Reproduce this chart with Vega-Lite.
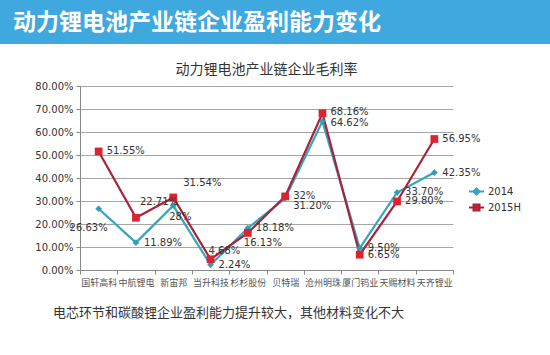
{
  "$schema": "https://vega.github.io/schema/vega-lite/v6.json",
  "padding": 0,
  "autosize": {"type": "pad"},
  "background": "white",
  "spacing": 19,
  "config": {"view": {"stroke": null}, "font": "Noto Sans CJK SC"},
  "title": {"text": "电芯环节和碳酸锂企业盈利能力提升较大，其他材料变化不大", "orient": "bottom", "anchor": "start", "frame": "group", "dx": 53, "offset": 20, "fontSize": 13, "fontWeight": "normal", "color": "#333", "font": "Noto Sans CJK SC"},
  "vconcat": [
    {
      "width": 550,
      "height": 44,
      "view": {"fill": "#3FA9DF", "stroke": null},
      "title": {"text": "动力锂电池产业链企业盈利能力变化", "anchor": "start", "frame": "group", "offset": -35, "dx": 13, "fontSize": 23, "fontWeight": "bold", "color": "white", "font": "Noto Sans CJK SC"},
      "data": {"values": []},
      "mark": "point"
    },
    {
      "spacing": 0,
      "hconcat": [
        {
          "width": 1,
          "height": 184,
          "data": {"values": []},
          "mark": "point"
        },
        {
          "width": 373,
          "height": 184,
          "title": {"text": "动力锂电池产业链企业毛利率", "fontSize": 14, "fontWeight": "normal", "color": "#333", "offset": 4, "anchor": "middle", "font": "Noto Sans CJK SC"},
          "data": {"values": [
            {"company": "国轩高科", "series": "2014", "value": 0.2663, "label": "26.63%"},
            {"company": "中航锂电", "series": "2014", "value": 0.1189, "label": "11.89%"},
            {"company": "新宙邦", "series": "2014", "value": 0.28, "label": "28%"},
            {"company": "当升科技", "series": "2014", "value": 0.0224, "label": "2.24%"},
            {"company": "杉杉股份", "series": "2014", "value": 0.1818, "label": "18.18%"},
            {"company": "贝特瑞", "series": "2014", "value": 0.312, "label": "31.20%"},
            {"company": "沧州明珠", "series": "2014", "value": 0.6462, "label": "64.62%"},
            {"company": "厦门钨业", "series": "2014", "value": 0.095, "label": "9.50%"},
            {"company": "天赐材料", "series": "2014", "value": 0.337, "label": "33.70%"},
            {"company": "天齐锂业", "series": "2014", "value": 0.4235, "label": "42.35%"},
            {"company": "国轩高科", "series": "2015H", "value": 0.5155, "label": "51.55%"},
            {"company": "中航锂电", "series": "2015H", "value": 0.2271, "label": "22.71%"},
            {"company": "新宙邦", "series": "2015H", "value": 0.3154, "label": "31.54%"},
            {"company": "当升科技", "series": "2015H", "value": 0.0468, "label": "4.68%"},
            {"company": "杉杉股份", "series": "2015H", "value": 0.1613, "label": "16.13%"},
            {"company": "贝特瑞", "series": "2015H", "value": 0.32, "label": "32%"},
            {"company": "沧州明珠", "series": "2015H", "value": 0.6816, "label": "68.16%"},
            {"company": "厦门钨业", "series": "2015H", "value": 0.0665, "label": "6.65%"},
            {"company": "天赐材料", "series": "2015H", "value": 0.298, "label": "29.80%"},
            {"company": "天齐锂业", "series": "2015H", "value": 0.5695, "label": "56.95%"}
          ]},
          "encoding": {
            "x": {"field": "company", "type": "nominal", "sort": null, "bandPosition": 0.5,
              "scale": {"type": "band", "paddingInner": 0, "paddingOuter": 0},
              "axis": {"title": null, "tickBand": "extent", "grid": false, "labelAngle": 0, "labelFontSize": 9, "labelColor": "#555", "labelFont": "Noto Sans CJK SC", "domainColor": "#888", "tickColor": "#888", "tickSize": 4, "labelPadding": 4, "labelOverlap": false, "labelLimit": 60}},
            "y": {"field": "value", "type": "quantitative",
              "scale": {"domain": [0, 0.8]},
              "axis": {"title": null, "format": ".2%", "values": [0, 0.1, 0.2, 0.3, 0.4, 0.5, 0.6, 0.7, 0.8], "grid": true, "gridColor": "#A6A6A6", "domainColor": "#888", "tickColor": "#888", "tickSize": 4, "labelFont": "DejaVu Sans", "labelFontSize": 10, "labelColor": "#333", "minExtent": 79, "labelPadding": 3}}
          },
          "layer": [
            {
              "mark": {"type": "line", "strokeWidth": 2.2},
              "encoding": {
                "color": {"field": "series", "type": "nominal",
                  "scale": {"domain": ["2014", "2015H"], "range": ["#36A6BD", "#A8223A"]},
                  "legend": {"orient": "none", "legendX": 468, "legendY": 183, "title": null, "padding": 0, "labelFont": "DejaVu Sans", "labelFontSize": 10, "labelColor": "#333", "symbolType": "M-1,0L1,0", "symbolStrokeWidth": 2, "symbolSize": 225, "rowPadding": 0, "labelOffset": 3,
                    "encode": {"symbols": {
                      "update": {
                        "shape": {"signal": "datum.value === '2014' ? 'M-1,0L1,0M0,-0.42L0.42,0L0,0.42L-0.42,0Z' : 'M-1,0L1,0M-0.4,-0.4L0.4,-0.4L0.4,0.4L-0.4,0.4Z'"},
                        "size": {"value": 225},
                        "fill": {"signal": "datum.value === '2014' ? '#36A6BD' : '#DC2430'"},
                        "stroke": {"signal": "datum.value === '2014' ? '#36A6BD' : '#A8223A'"},
                        "strokeWidth": {"value": 2},
                        "strokeOpacity": {"value": 1},
                        "opacity": {"value": 1}
                      }
                    }}}
                }
              }
            },
            {
              "transform": [{"filter": "datum.series == '2014'"}],
              "mark": {"type": "point", "filled": true, "opacity": 1, "shape": "diamond", "size": 45, "color": "#2F9FB6"}
            },
            {
              "transform": [{"filter": "datum.series == '2015H'"}],
              "mark": {"type": "point", "filled": true, "opacity": 1, "shape": "square", "size": 60, "color": "#DC2430"}
            },
            {
              "transform": [{"filter": "indexof(['2014|国轩高科','2014|新宙邦','2014|贝特瑞','2014|沧州明珠','2015H|中航锂电','2015H|新宙邦','2015H|当升科技','2015H|杉杉股份','2015H|沧州明珠'], datum.series + '|' + datum.company) < 0"}],
              "mark": {"type": "text", "align": "left", "baseline": "middle", "dx": 8, "font": "DejaVu Sans", "fontSize": 10, "fill": "#333"},
              "encoding": {"text": {"field": "label"}}
            },
            {
              "transform": [{"filter": "datum.series == '2014' && datum.company == '沧州明珠'"}],
              "mark": {"type": "text", "align": "left", "baseline": "middle", "dx": 8, "dy": 2, "font": "DejaVu Sans", "fontSize": 10, "fill": "#333"},
              "encoding": {"text": {"field": "label"}}
            },
            {
              "transform": [{"filter": "datum.series == '2015H' && datum.company == '沧州明珠'"}],
              "mark": {"type": "text", "align": "left", "baseline": "middle", "dx": 8, "dy": -1, "font": "DejaVu Sans", "fontSize": 10, "fill": "#333"},
              "encoding": {"text": {"field": "label"}}
            },
            {
              "transform": [{"filter": "datum.series == '2014' && datum.company == '国轩高科'"}],
              "mark": {"type": "text", "align": "center", "baseline": "middle", "dx": -10, "dy": 19, "font": "DejaVu Sans", "fontSize": 10, "fill": "#333"},
              "encoding": {"text": {"field": "label"}}
            },
            {
              "transform": [{"filter": "datum.series == '2014' && datum.company == '新宙邦'"}],
              "mark": {"type": "text", "align": "left", "baseline": "middle", "dx": -4, "dy": 11, "font": "DejaVu Sans", "fontSize": 10, "fill": "#333"},
              "encoding": {"text": {"field": "label"}}
            },
            {
              "transform": [{"filter": "datum.series == '2014' && datum.company == '贝特瑞'"}],
              "mark": {"type": "text", "align": "left", "baseline": "middle", "dx": 8, "dy": 8, "font": "DejaVu Sans", "fontSize": 10, "fill": "#333"},
              "encoding": {"text": {"field": "label"}}
            },
            {
              "transform": [{"filter": "datum.series == '2015H' && datum.company == '中航锂电'"}],
              "mark": {"type": "text", "align": "left", "baseline": "middle", "dx": 4, "dy": -16, "font": "DejaVu Sans", "fontSize": 10, "fill": "#333"},
              "encoding": {"text": {"field": "label"}}
            },
            {
              "transform": [{"filter": "datum.series == '2015H' && datum.company == '新宙邦'"}],
              "mark": {"type": "text", "align": "left", "baseline": "middle", "dx": 10, "dy": -14, "font": "DejaVu Sans", "fontSize": 10, "fill": "#333"},
              "encoding": {"text": {"field": "label"}}
            },
            {
              "transform": [{"filter": "datum.series == '2015H' && datum.company == '当升科技'"}],
              "mark": {"type": "text", "align": "left", "baseline": "middle", "dx": -2, "dy": -8, "font": "DejaVu Sans", "fontSize": 10, "fill": "#333"},
              "encoding": {"text": {"field": "label"}}
            },
            {
              "transform": [{"filter": "datum.series == '2015H' && datum.company == '杉杉股份'"}],
              "mark": {"type": "text", "align": "left", "baseline": "middle", "dx": -4, "dy": 10, "font": "DejaVu Sans", "fontSize": 10, "fill": "#333"},
              "encoding": {"text": {"field": "label"}}
            }
          ]
        }
      ]
    }
  ]
}
